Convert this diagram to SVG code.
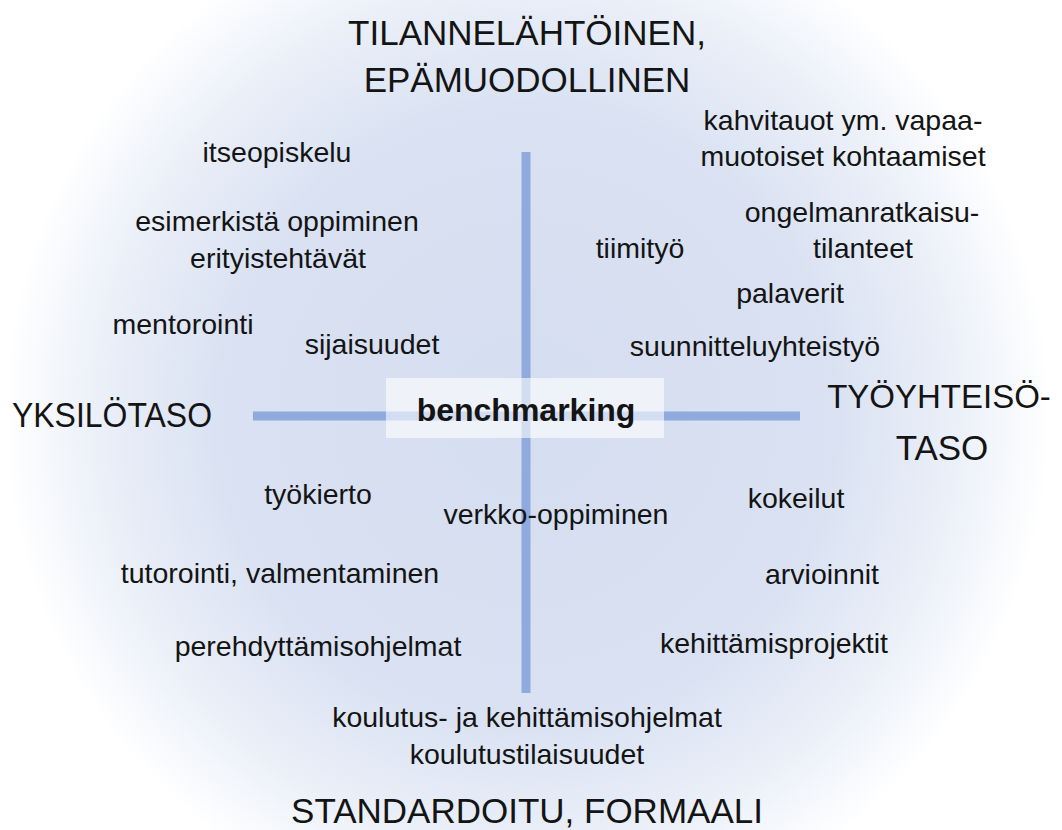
<svg xmlns="http://www.w3.org/2000/svg" width="1062" height="830" viewBox="0 0 1062 830">
<defs>
<radialGradient id="bg" gradientUnits="userSpaceOnUse" cx="527" cy="415" r="545">
<stop offset="0" stop-color="#d5def0"/>
<stop offset="0.55" stop-color="#d9e1f2"/>
<stop offset="0.78" stop-color="#eaeff8"/>
<stop offset="0.96" stop-color="#ffffff"/>
</radialGradient>
<style>
text{font-family:"Liberation Sans",Arial,sans-serif;fill:#141414;text-anchor:middle}
.big{font-size:35px}
.it{font-size:28.5px}
.bm{font-size:32px;font-weight:bold}
.axis{stroke:#8faadc;stroke-width:9;fill:none}
</style>
</defs>
<rect width="1062" height="830" fill="#ffffff"/>
<rect width="1062" height="830" fill="url(#bg)"/>
<g id="connectors">
<line class="axis" x1="253" y1="416" x2="800" y2="416"/>
<line class="axis" x1="526" y1="152" x2="526" y2="693"/>
</g>
<g id="n-top"><text class="big" x="527" y="45">TILANNELÄHTÖINEN,</text><text class="big" x="527" y="92">EPÄMUODOLLINEN</text></g>
<g id="n-bottom"><text class="big" x="527" y="823">STANDARDOITU, FORMAALI</text></g>
<g id="n-left"><text class="big" x="112" y="427" textLength="200" lengthAdjust="spacingAndGlyphs">YKSILÖTASO</text></g>
<g id="n-right"><text class="big" x="939" y="408" style="font-size:33px">TYÖYHTEISÖ-</text><text class="big" x="942" y="460">TASO</text></g>
<g id="n-benchmarking"><rect x="386" y="378" width="278" height="60" fill="#ffffff" fill-opacity="0.6"/><text class="bm" x="526" y="421">benchmarking</text></g>
<g id="n-kahvitauot"><text class="it" x="843" y="130">kahvitauot ym. vapaa-</text><text class="it" x="843" y="166">muotoiset kohtaamiset</text></g>
<g id="n-itseopiskelu"><text class="it" x="277" y="162">itseopiskelu</text></g>
<g id="n-esimerkista"><text class="it" x="277" y="231">esimerkistä oppiminen</text></g>
<g id="n-erityistehtavat"><text class="it" x="278" y="268">erityistehtävät</text></g>
<g id="n-ongelmanratkaisu"><text class="it" x="862" y="222">ongelmanratkaisu-</text><text class="it" x="863" y="258">tilanteet</text></g>
<g id="n-tiimityo"><text class="it" x="640" y="258">tiimityö</text></g>
<g id="n-palaverit"><text class="it" x="790" y="303">palaverit</text></g>
<g id="n-mentorointi"><text class="it" x="183" y="334">mentorointi</text></g>
<g id="n-sijaisuudet"><text class="it" x="372" y="354">sijaisuudet</text></g>
<g id="n-suunnittelu"><text class="it" x="755" y="356">suunnitteluyhteistyö</text></g>
<g id="n-tyokierto"><text class="it" x="318" y="504">työkierto</text></g>
<g id="n-verkko"><text class="it" x="556" y="524">verkko-oppiminen</text></g>
<g id="n-kokeilut"><text class="it" x="796" y="508">kokeilut</text></g>
<g id="n-tutorointi"><text class="it" x="280" y="583">tutorointi, valmentaminen</text></g>
<g id="n-arvioinnit"><text class="it" x="822" y="584">arvioinnit</text></g>
<g id="n-perehdyttamis"><text class="it" x="318" y="656">perehdyttämisohjelmat</text></g>
<g id="n-kehittamisprojektit"><text class="it" x="774" y="653">kehittämisprojektit</text></g>
<g id="n-koulutus"><text class="it" x="527" y="727">koulutus- ja kehittämisohjelmat</text><text class="it" x="527" y="764">koulutustilaisuudet</text></g>
</svg>
